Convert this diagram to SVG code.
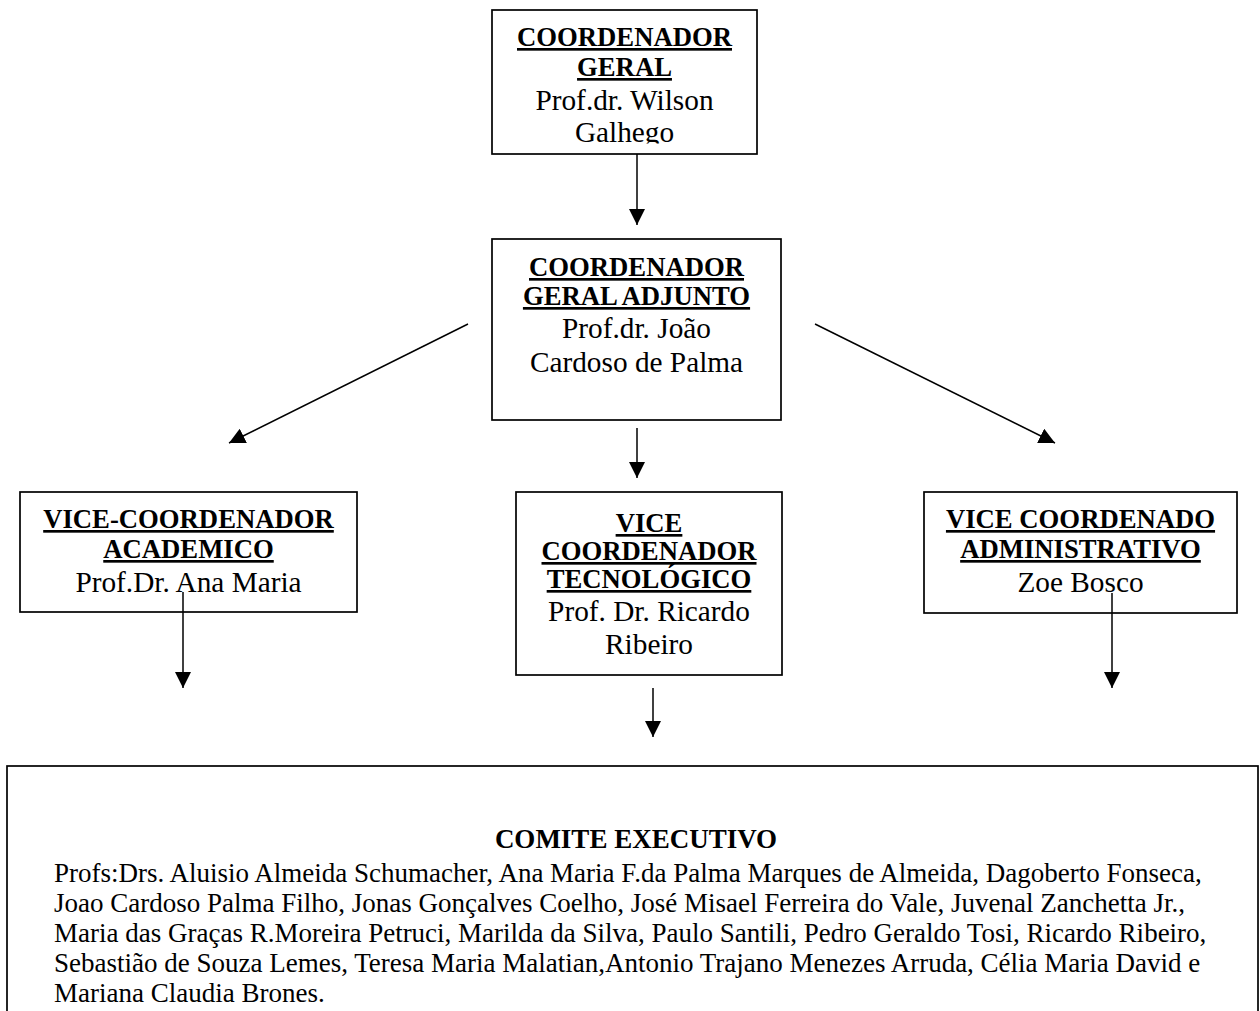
<svg xmlns="http://www.w3.org/2000/svg" width="1260" height="1011" viewBox="0 0 1260 1011">
<defs>
<marker id="ah" markerUnits="userSpaceOnUse" markerWidth="16" markerHeight="16" viewBox="0 0 15 15" refX="15" refY="7.5" orient="auto"><path d="M0,0 L15,7.5 L0,15 Z" fill="#000"/></marker>
<clipPath id="clipTop"><rect x="492" y="10" width="265" height="133.5"/></clipPath>
</defs>
<style>
.box{fill:#fff;stroke:#000;stroke-width:1.7}
.t{font-family:"Liberation Serif","Times New Roman",serif;fill:#000;text-anchor:middle}
.b{font-weight:bold;font-size:26.7px;text-decoration:underline}
.r{font-size:29.3px}
.body{font-family:"Liberation Serif","Times New Roman",serif;font-size:27px;fill:#000}
.bt{font-family:"Liberation Serif","Times New Roman",serif;font-size:27px;font-weight:bold;fill:#000;text-anchor:middle}
.conn{stroke:#000;stroke-width:1.5;fill:none;marker-end:url(#ah)}
</style>
<rect width="1260" height="1011" fill="#fff"/>

<g id="coordenador-geral">
<rect class="box" x="492" y="10" width="265" height="144"/>
<g clip-path="url(#clipTop)">
<text class="t b" x="624.5" y="46">COORDENADOR</text>
<text class="t b" x="624.5" y="76">GERAL</text>
<text class="t r" x="624.5" y="110">Prof.dr. Wilson</text>
<text class="t r" x="624.5" y="142">Galhego</text>
</g>
</g>

<g id="coordenador-adjunto">
<rect class="box" x="492" y="239" width="289" height="181"/>
<text class="t b" x="636.5" y="276">COORDENADOR</text>
<text class="t b" x="636.5" y="305">GERAL ADJUNTO</text>
<text class="t r" x="636.5" y="338">Prof.dr. João</text>
<text class="t r" x="636.5" y="372">Cardoso de Palma</text>
</g>

<g id="vice-academico">
<rect class="box" x="20" y="492" width="337" height="120"/>
<text class="t b" x="188.5" y="528">VICE-COORDENADOR</text>
<text class="t b" x="188.5" y="558">ACADEMICO</text>
<text class="t r" x="188.5" y="592">Prof.Dr. Ana Maria</text>
</g>

<g id="vice-tecnologico">
<rect class="box" x="516" y="492" width="266" height="183"/>
<text class="t b" x="649" y="532">VICE</text>
<text class="t b" x="649" y="560">COORDENADOR</text>
<text class="t b" x="649" y="588">TECNOLÓGICO</text>
<text class="t r" x="649" y="621">Prof. Dr. Ricardo</text>
<text class="t r" x="649" y="654">Ribeiro</text>
</g>

<g id="vice-administrativo">
<rect class="box" x="924" y="492" width="313" height="121"/>
<text class="t b" x="1080.5" y="528">VICE COORDENADO</text>
<text class="t b" x="1080.5" y="558">ADMINISTRATIVO</text>
<text class="t r" x="1080.5" y="592">Zoe Bosco</text>
</g>

<g id="comite-executivo">
<rect class="box" x="7" y="766" width="1251" height="270"/>
<text class="bt" x="636" y="848">COMITE EXECUTIVO</text>
<text class="body" x="54" y="882">Profs:Drs. Aluisio Almeida Schumacher, Ana Maria F.da Palma Marques de Almeida, Dagoberto Fonseca,</text>
<text class="body" x="54" y="912">Joao Cardoso Palma Filho, Jonas Gonçalves Coelho, José Misael Ferreira do Vale, Juvenal Zanchetta Jr.,</text>
<text class="body" x="54" y="942">Maria das Graças R.Moreira Petruci, Marilda da Silva, Paulo Santili, Pedro Geraldo Tosi, Ricardo Ribeiro,</text>
<text class="body" x="54" y="972">Sebastião de Souza Lemes, Teresa Maria Malatian,Antonio Trajano Menezes Arruda, Célia Maria David e</text>
<text class="body" x="54" y="1002">Mariana Claudia Brones.</text>
</g>

<g id="connectors">
<line class="conn" x1="637" y1="154" x2="637" y2="225"/>
<line class="conn" x1="468" y1="324" x2="229" y2="443"/>
<line class="conn" x1="815" y1="324" x2="1055" y2="443"/>
<line class="conn" x1="637" y1="428" x2="637" y2="478"/>
<line class="conn" x1="183" y1="592" x2="183" y2="688"/>
<line class="conn" x1="653" y1="688" x2="653" y2="737"/>
<line class="conn" x1="1112" y1="593" x2="1112" y2="688"/>
</g>
</svg>
